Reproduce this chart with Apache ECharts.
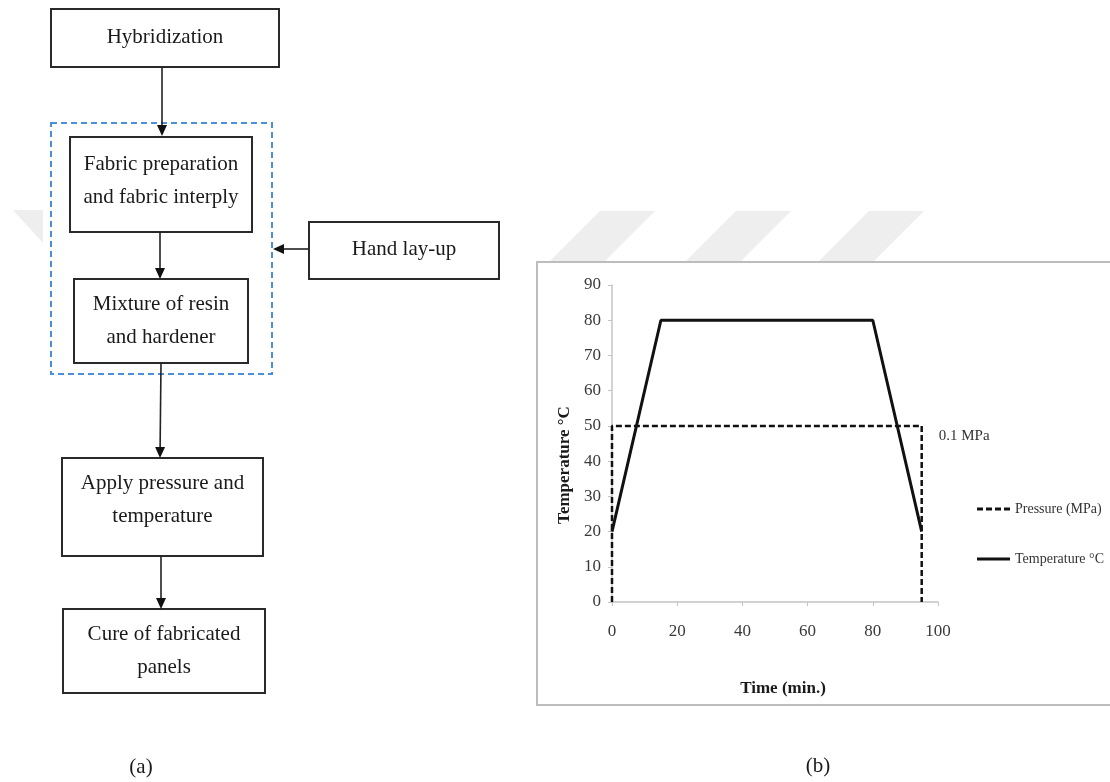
<!DOCTYPE html>
<html>
<head>
<meta charset="utf-8">
<script src="https://cdn.jsdelivr.net/npm/echarts@6/dist/echarts.min.js"></script>
<style>
  html, body { margin: 0; padding: 0; background: #fff; }
  #chart { width: 1110px; height: 782px; }
</style>
</head>
<body>
<div id="chart"></div>
<script>
// flowchart text (a)
const STEPS = [
  'Hybridization',
  'Fabric preparation\nand fabric interply',
  'Mixture of resin\nand hardener',
  'Apply pressure and\ntemperature',
  'Cure of fabricated\npanels'
]
const SIDE_STEP = 'Hand lay-up'
const PANEL_LABELS = ['(a)', '(b)']

// curing cycle (b)
const pressureTime = [0, 0, 95, 95]
const pressureValue = [0, 50, 50, 0]
const tempTime = [0, 15, 80, 95]
const tempValue = [20, 80, 80, 20]
const PRESSURE_NOTE = '0.1 MPa'
const SERIES_NAMES = ['Pressure (MPa)', 'Temperature \u00b0C']
const X_NAME = 'Time (min.)'
const Y_NAME = 'Temperature \u00b0C'

// layout of the flowchart boxes (pixels)
const BOX_LAYOUT = [
  { x: 51, y: 9, w: 228, h: 58, ty: 37 },
  { x: 70, y: 137, w: 182, h: 95, ty: 181 },
  { x: 74, y: 279, w: 174, h: 84, ty: 321 },
  { x: 62, y: 458, w: 201, h: 98, ty: 500 },
  { x: 63, y: 609, w: 202, h: 84, ty: 651 }
]
const SIDE_LAYOUT = { x: 309, y: 222, w: 190, h: 57, ty: 249 }
const GROUP_LAYOUT = { x: 51, y: 123, w: 221, h: 251 }
const ARROWS = [
  [162, 67, 162, 136],
  [160, 232, 160, 279],
  [161, 363, 160, 458],
  [161, 556, 161, 609],
  [309, 249, 273, 249]
]

const SERIF = 'Liberation Serif'
const INK = '#1a1a1a'

// legend line samples: dashed and solid
const ICON_DASHED = 'path://M0,0h6v3h-6zM9,0h6v3h-6zM18,0h6v3h-6zM27,0h6v3h-6z'
const ICON_SOLID = 'path://M0,0h33v3h-33z'

function boxGraphic(b, text) {
  return [
    {
      type: 'rect',
      shape: { x: b.x, y: b.y, width: b.w, height: b.h },
      style: { fill: '#fff', stroke: '#2a2a2a', lineWidth: 2 },
      z: 5
    },
    {
      type: 'text',
      x: b.x + b.w / 2,
      y: b.ty,
      style: {
        text, fill: INK, font: '21px ' + SERIF,
        align: 'center', verticalAlign: 'middle', lineHeight: 33
      },
      z: 6
    }
  ]
}

function arrowGraphic([x1, y1, x2, y2]) {
  const len = Math.hypot(x2 - x1, y2 - y1)
  const ux = (x2 - x1) / len, uy = (y2 - y1) / len
  const hl = 11, hw = 5
  const bx = x2 - ux * hl, by = y2 - uy * hl
  return [
    {
      type: 'line',
      shape: { x1, y1, x2: bx, y2: by },
      style: { stroke: '#222', lineWidth: 1.6 },
      z: 7
    },
    {
      type: 'polygon',
      shape: { points: [[x2, y2], [bx - uy * hw, by + ux * hw], [bx + uy * hw, by - ux * hw]] },
      style: { fill: '#111' },
      z: 7
    }
  ]
}

// faint watermark stripes behind the figure
const stripeTops = [600, 736, 869]
const watermark = stripeTops.map((sx) => ({
  type: 'polygon',
  shape: { points: [[sx, 211], [sx + 55, 211], [sx + 4, 262], [sx - 51, 262]] },
  style: { fill: '#eeeeee' },
  z: -30
}))
watermark.push({
  type: 'polygon',
  shape: { points: [[13, 210], [43, 210], [43, 243]] },
  style: { fill: '#eeeeee' },
  z: -30
})

const graphics = [
  ...watermark,
  {
    type: 'rect',
    shape: { x: 537, y: 262, width: 600, height: 443 },
    style: { fill: '#fff', stroke: '#bdbdbd', lineWidth: 2 },
    z: -10
  },
  {
    type: 'rect',
    shape: { x: GROUP_LAYOUT.x, y: GROUP_LAYOUT.y, width: GROUP_LAYOUT.w, height: GROUP_LAYOUT.h },
    style: { fill: 'none', stroke: '#4a90d9', lineWidth: 2, lineDash: [6, 4] },
    z: 4
  },
  ...BOX_LAYOUT.flatMap((b, i) => boxGraphic(b, STEPS[i])),
  ...boxGraphic(SIDE_LAYOUT, SIDE_STEP),
  ...ARROWS.flatMap(arrowGraphic),
  {
    type: 'text',
    x: 565, y: 465, rotation: Math.PI / 2,
    style: {
      text: Y_NAME, fill: INK, font: 'bold 17px ' + SERIF,
      align: 'center', verticalAlign: 'middle'
    },
    z: 8
  },
  {
    type: 'text', x: 141, y: 767,
    style: { text: PANEL_LABELS[0], fill: INK, font: '21px ' + SERIF, align: 'center', verticalAlign: 'middle' }
  },
  {
    type: 'text', x: 818, y: 766,
    style: { text: PANEL_LABELS[1], fill: INK, font: '21px ' + SERIF, align: 'center', verticalAlign: 'middle' }
  }
]

const pressureData = pressureTime.map((t, i) => {
  const item = { value: [t, pressureValue[i]] }
  if (i === 2) {
    item.label = {
      show: true, formatter: PRESSURE_NOTE, position: 'right', offset: [12, 10],
      color: '#333', fontFamily: SERIF, fontSize: 15
    }
  }
  return item
})

const option = {
  animation: false,
  backgroundColor: '#fff',
  textStyle: { fontFamily: SERIF },
  graphic: graphics,
  grid: { left: 612, top: 285, width: 326, height: 317, containLabel: false },
  legend: {
    orient: 'vertical', left: 972, top: 497,
    itemWidth: 33, itemHeight: 3, itemGap: 36,
    textStyle: { fontFamily: SERIF, fontSize: 14, color: '#333' },
    data: [
      { name: SERIES_NAMES[0], icon: ICON_DASHED },
      { name: SERIES_NAMES[1], icon: ICON_SOLID }
    ]
  },
  xAxis: {
    type: 'value', min: 0, max: 100, interval: 20,
    name: X_NAME, nameLocation: 'middle', nameGap: 78,
    nameTextStyle: { fontFamily: SERIF, fontSize: 17, fontWeight: 'bold', color: INK, padding: [0, 0, 0, 16] },
    axisLine: { lineStyle: { color: '#c4c4c4', width: 1.5 } },
    axisTick: { show: true, length: 4, lineStyle: { color: '#c4c4c4' } },
    axisLabel: { margin: 21, fontFamily: SERIF, fontSize: 17, color: '#3a3a3a' },
    splitLine: { show: false }
  },
  yAxis: {
    type: 'value', min: 0, max: 90, interval: 10,
    axisLine: { show: true, lineStyle: { color: '#c4c4c4', width: 1.5 } },
    axisTick: { show: true, length: 4, lineStyle: { color: '#c4c4c4' } },
    axisLabel: { margin: 11, fontFamily: SERIF, fontSize: 17, color: '#3a3a3a' },
    splitLine: { show: false }
  },
  series: [
    {
      name: SERIES_NAMES[0],
      type: 'line',
      data: pressureData,
      symbol: 'circle',
      symbolSize: 0,
      lineStyle: { color: '#111', width: 2.5, type: [6, 3] },
      itemStyle: { color: '#111' },
      z: 3
    },
    {
      name: SERIES_NAMES[1],
      type: 'line',
      data: tempTime.map((t, i) => [t, tempValue[i]]),
      symbol: 'circle',
      symbolSize: 0,
      lineStyle: { color: '#111', width: 3 },
      itemStyle: { color: '#111' },
      z: 4
    }
  ]
}

const chart = echarts.init(document.getElementById('chart'))
chart.setOption(option)
</script>
</body>
</html>
